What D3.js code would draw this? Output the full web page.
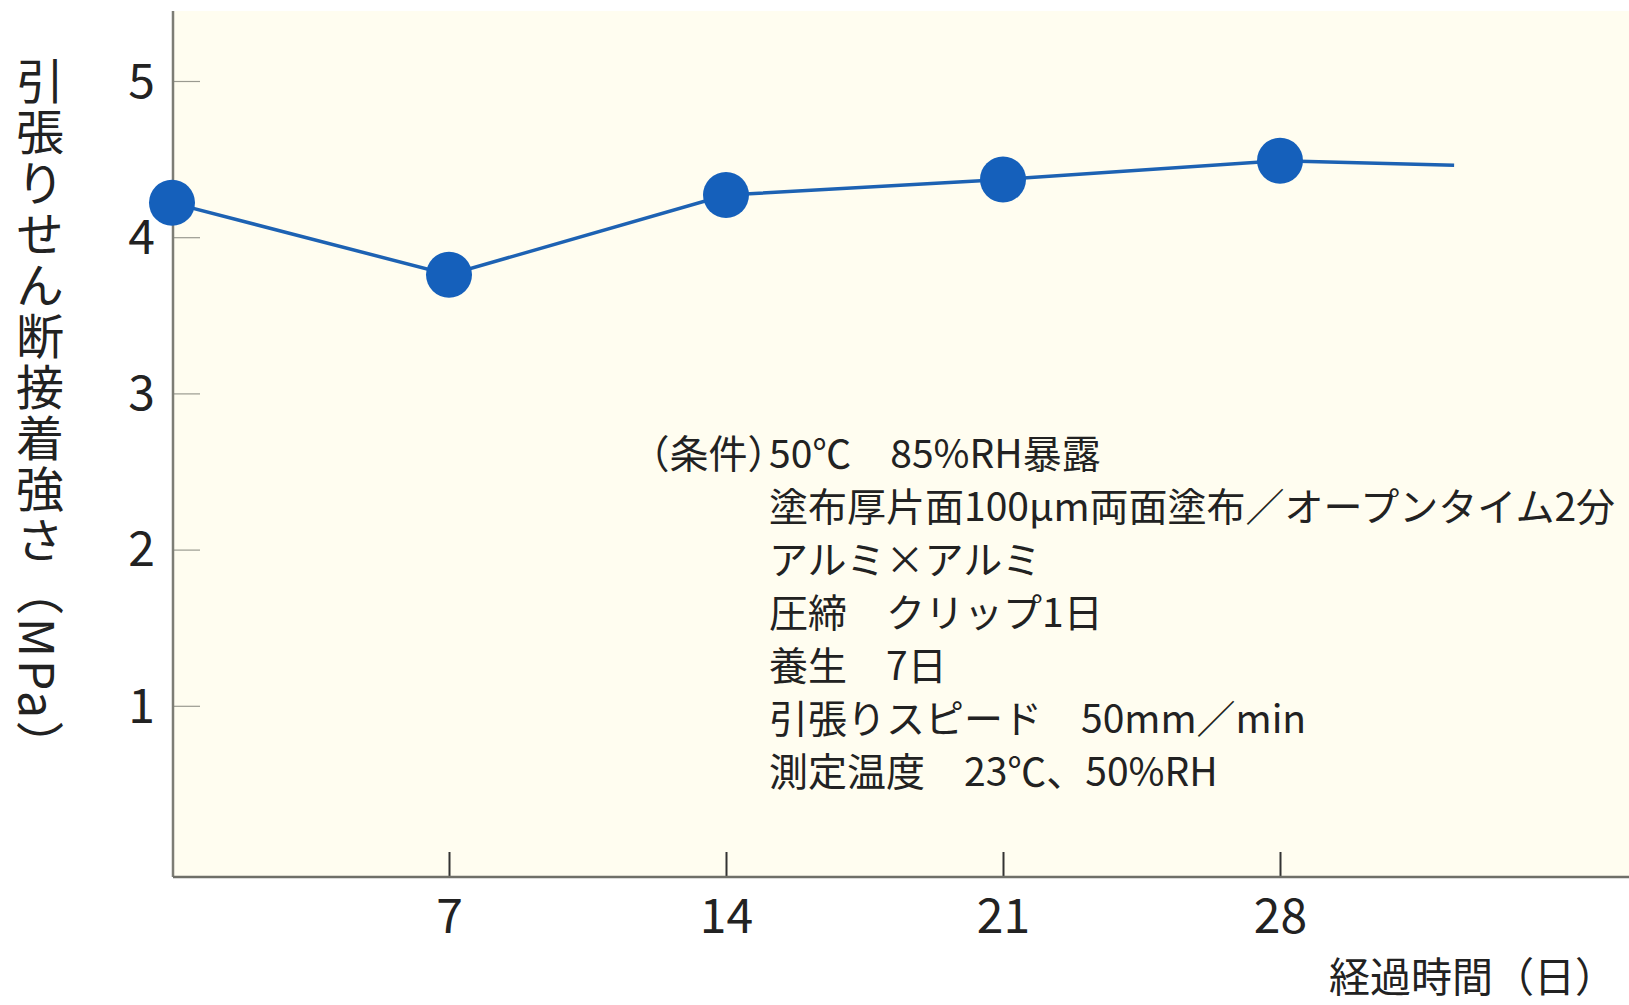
<!DOCTYPE html>
<html>
<head>
<meta charset="utf-8">
<script src="https://cdn.jsdelivr.net/npm/d3@7"></script>
<style>
  body { margin: 0; background: #fff; }
  svg text { font-family: "Noto Sans CJK JP", "Noto Sans", sans-serif; fill: #222; }
</style>
</head>
<body>
<script>
// data
var days = [0, 7, 14, 21, 28];
var strength = [4.22, 3.76, 4.27, 4.37, 4.49];
// the line runs on a little past the last marker
var tailDay = 32.4, tailValue = 4.46;
var xTicks = [7, 14, 21, 28];
var yTicks = [1, 2, 3, 4, 5];
var yTitle = "引張りせん断接着強さ（MPa）";
var xTitle = "経過時間（日）";
var noteHead = "（条件）";
var noteLines = [
  "50℃　85%RH暴露",
  "塗布厚片面100μm両面塗布／オープンタイム2分",
  "アルミ×アルミ",
  "圧締　クリップ1日",
  "養生　7日",
  "引張りスピード　50mm／min",
  "測定温度　23℃、50%RH"
];

var W = 1629, H = 1005;
var plot = {left: 173, top: 11, right: W, bottom: 877};

var svg = d3.select("body").append("svg")
  .attr("width", W).attr("height", H);

// scales
var x = d3.scaleLinear().domain([0, 28]).range([172, 1280]);
var y = d3.scaleLinear().domain([0, 5]).range([862, 81]);

// plot background
svg.append("rect")
  .attr("x", plot.left).attr("y", plot.top)
  .attr("width", plot.right - plot.left).attr("height", plot.bottom - plot.top)
  .attr("fill", "#fffdf0");

// y axis
var gy = svg.append("g")
  .attr("transform", "translate(" + plot.left + ",0)")
  .call(d3.axisLeft(y).tickValues(yTicks).tickFormat(d3.format("d")).tickSize(-27).tickPadding(18));
gy.select(".domain").remove();
gy.selectAll(".tick line").attr("stroke", "#9a9a90").attr("stroke-width", 1.2);
gy.selectAll(".tick text").attr("font-size", 48).attr("dy", "0.34em");

// x axis
var gx = svg.append("g")
  .attr("transform", "translate(0," + plot.bottom + ")")
  .call(d3.axisBottom(x).tickValues(xTicks).tickSize(-25).tickPadding(22));
gx.select(".domain").remove();
gx.selectAll(".tick line").attr("stroke", "#333").attr("stroke-width", 2);
gx.selectAll(".tick text").attr("font-size", 48);

// frame lines
svg.append("line")
  .attr("x1", plot.left).attr("x2", plot.left)
  .attr("y1", plot.top).attr("y2", plot.bottom)
  .attr("stroke", "#7d7d75").attr("stroke-width", 2.5);
svg.append("line")
  .attr("x1", plot.left).attr("x2", plot.right)
  .attr("y1", plot.bottom).attr("y2", plot.bottom)
  .attr("stroke", "#6f6f68").attr("stroke-width", 2.5);

// the series line
var linePts = days.map(function(d, i) { return [d, strength[i]]; });
linePts.push([tailDay, tailValue]);
svg.append("path")
  .datum(linePts)
  .attr("fill", "none")
  .attr("stroke", "#1d62b3")
  .attr("stroke-width", 3.5)
  .attr("d", d3.line().x(function(d) { return x(d[0]); }).y(function(d) { return y(d[1]); }));

// markers
svg.selectAll("circle.pt")
  .data(days)
  .enter().append("circle")
  .attr("class", "pt")
  .attr("cx", function(d) { return x(d); })
  .attr("cy", function(d, i) { return y(strength[i]); })
  .attr("r", 23)
  .attr("fill", "#1560bb");

// axis titles
svg.append("text")
  .attr("x", 40).attr("y", 57)
  .style("writing-mode", "vertical-rl")
  .style("text-orientation", "mixed")
  .style("letter-spacing", "3px")
  .attr("font-size", 48)
  .text(yTitle);

svg.append("text")
  .attr("x", 1616).attr("y", 992)
  .attr("text-anchor", "end")
  .attr("font-size", 41)
  .text(xTitle);

// conditions note; head uses half-width brackets so it sits tight to line 1
var noteX = 769, noteY = 468, lineGap = 53, noteFs = 39;
svg.append("text")
  .attr("x", noteX - 2).attr("y", noteY)
  .attr("text-anchor", "end")
  .style("font-feature-settings", "'halt'")
  .attr("font-size", noteFs)
  .text(noteHead);

svg.selectAll("text.note")
  .data(noteLines)
  .enter().append("text")
  .attr("class", "note")
  .attr("x", noteX)
  .attr("y", function(d, i) { return noteY + i * lineGap; })
  .attr("font-size", noteFs)
  .text(function(d) { return d; });
</script>
</body>
</html>
